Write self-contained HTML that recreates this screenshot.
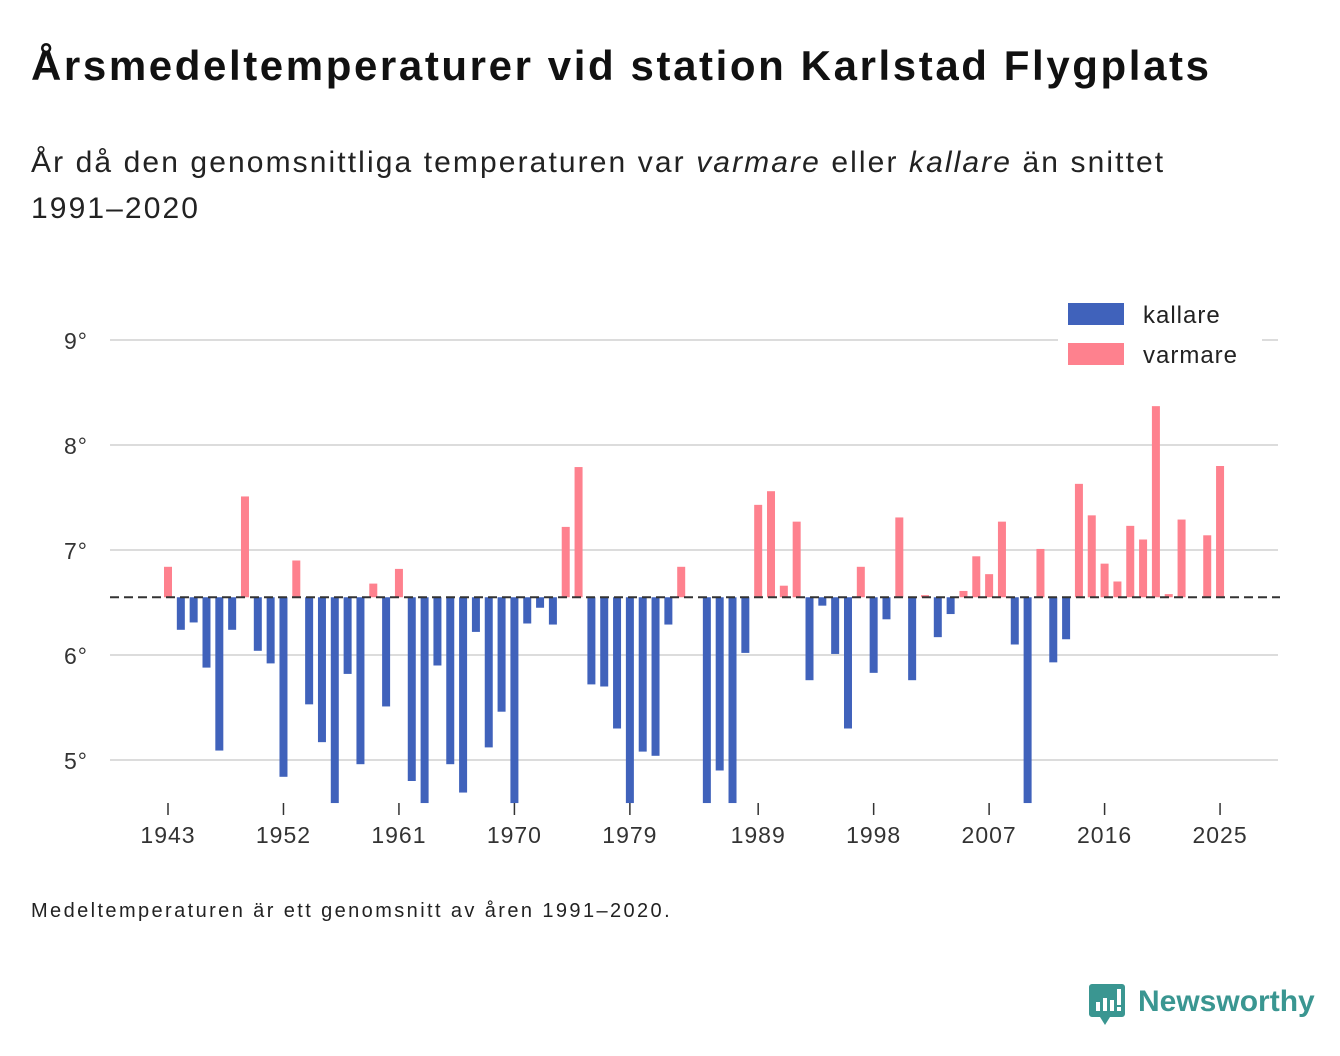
<!DOCTYPE html>
<html><head><meta charset="utf-8">
<style>
body{margin:0;background:#fff;font-family:"Liberation Sans","DejaVu Sans",sans-serif;color:#111;}
.wrap{position:relative;width:1340px;height:1056px;overflow:hidden;}
h1{position:absolute;left:31px;top:42px;margin:0;font-size:42px;font-weight:bold;letter-spacing:2.6px;white-space:nowrap;}
.sub{position:absolute;left:31px;top:140px;margin:0;font-size:30px;line-height:46px;color:#222;width:1190px;letter-spacing:2.1px;}
.foot{position:absolute;left:31px;top:900px;font-size:20px;color:#222;letter-spacing:2.4px;white-space:nowrap;}
svg text{font-family:"Liberation Sans","DejaVu Sans",sans-serif;letter-spacing:1px;}
</style></head><body>
<div class="wrap">
<h1>Årsmedeltemperaturer vid station Karlstad Flygplats</h1>
<p class="sub">År då den genomsnittliga temperaturen var <i>varmare</i> eller <i>kallare</i> än snittet 1991–2020</p>
<svg id="chart" width="1340" height="1056" style="position:absolute;left:0;top:0"></svg>
<div class="foot">Medeltemperaturen är ett genomsnitt av åren 1991–2020.</div>
<svg width="240" height="60" style="position:absolute;left:1085px;top:978px">
<path d="M7 6 h30 a3 3 0 0 1 3 3 v27 a3 3 0 0 1 -3 3 h-12 l-5 8 l-5 -8 h-8 a3 3 0 0 1 -3 -3 v-27 a3 3 0 0 1 3 -3z" fill="#3a9691"/>
<rect x="11" y="24" width="4" height="9" fill="#fff"/><rect x="18" y="20" width="4" height="13" fill="#fff"/><rect x="25" y="22" width="4" height="11" fill="#fff"/><rect x="32" y="11" width="4" height="16" fill="#fff"/><rect x="32" y="29" width="4" height="4" fill="#fff"/>
<text x="53" y="33" font-size="30" font-weight="bold" fill="#3a9691" style="letter-spacing:0">Newsworthy</text>
</svg>
</div>
<script>
const years=[];for(let y=1943;y<=2025;y++)years.push(y);
const temps=[6.84,6.24,6.31,5.88,5.09,6.24,7.51,6.04,5.92,4.84,6.90,5.53,5.17,4.4,5.82,4.96,6.68,5.51,6.82,4.80,4.4,5.90,4.96,4.69,6.22,5.12,5.46,4.4,6.30,6.45,6.29,7.22,7.79,5.72,5.70,5.30,4.4,5.08,5.04,6.29,6.84,null,4.4,4.90,4.4,6.02,7.43,7.56,6.66,7.27,5.76,6.47,6.01,5.30,6.84,5.83,6.34,7.31,5.76,6.57,6.17,6.39,6.61,6.94,6.77,7.27,6.10,4.4,7.01,5.93,6.15,7.63,7.33,6.87,6.70,7.23,7.10,8.37,6.58,7.29,null,7.14,7.80];
const yTicks=[5,6,7,8,9];
const xTicks=[1943,1952,1961,1970,1979,1989,1998,2007,2016,2025];
const baseline=6.55;
const svg=document.getElementById('chart');const NS='http://www.w3.org/2000/svg';
const yS=v=>340+(9-v)*105;const xS=y=>168+(y-1943)*12.83;
const yMin=4.59;
function mk(t,a){const e=document.createElementNS(NS,t);for(const k in a)e.setAttribute(k,a[k]);svg.appendChild(e);return e;}
yTicks.forEach(v=>{const l=mk('line',{x1:110,x2:1278,y1:yS(v),y2:yS(v),stroke:'#dcdcdc','stroke-width':2});

const t=mk('text',{x:88,y:yS(v)+9,'text-anchor':'end','font-size':23,fill:'#333'});t.textContent=v+'°';
});
xTicks.forEach(y=>{const l=mk('line',{x1:xS(y),x2:xS(y),y1:803,y2:815,stroke:'#333','stroke-width':1.5});

const t=mk('text',{x:xS(y),y:843,'text-anchor':'middle','font-size':23,fill:'#333'});t.textContent=y;
});
years.forEach((y,i)=>{const v=temps[i];if(v==null)return;const vv=Math.max(v,yMin);
const y0=yS(baseline),y1=yS(vv);const warm=v>=baseline;
const r=mk('rect',{x:xS(y)-4,y:Math.min(y0,y1),width:8,height:Math.max(Math.abs(y1-y0),0.5),fill:warm?'#fe818e':'#4062bb'});
});
const bl=mk('line',{x1:110,x2:1280,y1:yS(baseline),y2:yS(baseline),stroke:'#333','stroke-width':2,'stroke-dasharray':'9,5'});

const lb=mk('rect',{x:1058,y:298,width:204,height:78,fill:'#fff'});

[['kallare','#4062bb',303],['varmare','#fe818e',343]].forEach(d=>{
const s=mk('rect',{x:1068,y:d[2],width:56,height:22,fill:d[1]});
const t=mk('text',{x:1143,y:d[2]+20,'font-size':24,fill:'#222'});t.textContent=d[0];
});
</script>
</body></html>
